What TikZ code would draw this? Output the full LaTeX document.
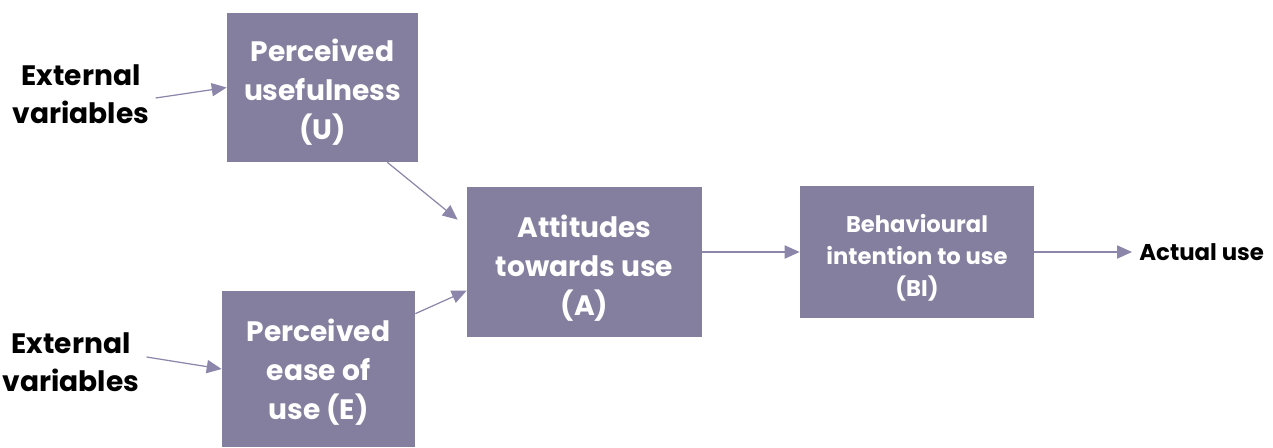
\documentclass[tikz,border=0pt]{standalone}
\usepackage{fontspec}
\setmainfont{Poppins}
\usetikzlibrary{arrows.meta}
\definecolor{boxfill}{RGB}{132,126,159}
\definecolor{linkcol}{RGB}{140,134,170}
\tikzset{
  px/.style={x=0.02cm,y=-0.02cm},
  stage/.style={fill=boxfill,draw=none,inner sep=0pt},
  stagetext/.style={text=white,align=center,inner sep=0pt,
    font=\bfseries\fontsize{16}{22.2}\selectfont},
  smalltext/.style={stagetext,font=\bfseries\fontsize{12.9}{18.1}\selectfont},
  label/.style={align=center,inner sep=0pt,text=black,
    font=\bfseries\fontsize{16}{21.6}\selectfont},
  link/.style={draw=linkcol,line width=0.7pt,
    -{Triangle[length=8.5pt,width=7.5pt]}},
}
\begin{document}
\begin{tikzpicture}[px]
\useasboundingbox (0,0) rectangle (1273,447);
% stages of the model
\node[stage,minimum width=191*0.02cm,minimum height=149*0.02cm] (U) at (322.5,87.5) {};
\node[stage,minimum width=193*0.02cm,minimum height=156*0.02cm] (E) at (318.5,369) {};
\node[stage,minimum width=235*0.02cm,minimum height=150*0.02cm] (A) at (584.5,262) {};
\node[stage,minimum width=234*0.02cm,minimum height=132*0.02cm] (BI) at (917,252) {};
\node[stagetext] (Ut) at ([yshift=-5*0.02cm]U.center) {Perceived\\usefulness\\(U)};
\node[stagetext] (Et) at ([yshift=-3*0.02cm]E.center) {Perceived\\ease of\\use (E)};
\node[stagetext] (At) at ([yshift=-6.5*0.02cm]A.center) {Attitudes\\towards use\\(A)};
\node[smalltext] (BIt) at ([yshift=-6*0.02cm]BI.center) {Behavioural\\intention to use\\(BI)};
% free labels
\node[label] (ext1) at (81,94) {External\\variables};
\node[label] (ext2) at (71,362.5) {External\\variables};
\node[label,anchor=west,font=\bfseries\fontsize{13}{15}\selectfont] (act) at (1139,252) {Actual use};
% connectors
\draw[link] ([shift={(6,4)}]ext1.east) -- (U.west);
\draw[link] ([shift={(7,-5.5)}]ext2.east) -- (E.west);
\draw[link] ([xshift=-31*0.02cm]U.south east) -- ([shift={(-9,33)}]A.north west);
\draw[link] ([yshift=-23*0.02cm]E.north east) -- ([yshift=-104*0.02cm]A.north west);
\draw[link] (A.east |- BI.west) -- (BI.west);
\draw[link] (BI.east) -- ([xshift=-7*0.02cm]act.west);
\end{tikzpicture}
\end{document}
